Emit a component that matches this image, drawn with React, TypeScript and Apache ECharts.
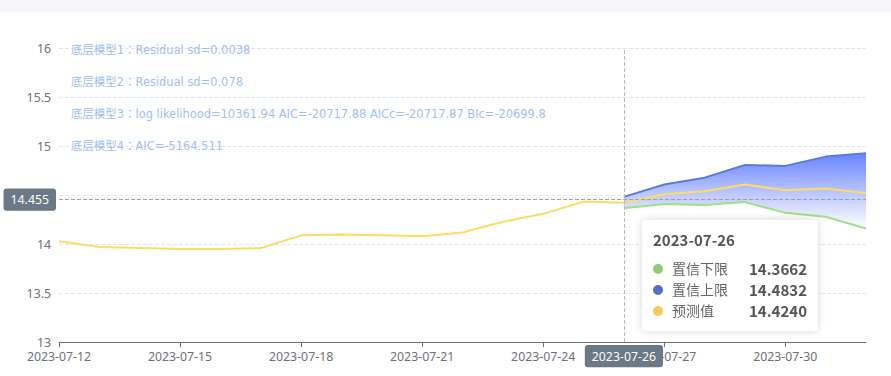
import React, { useEffect, useRef } from 'react';
import * as echarts from 'echarts';

const categories = [
  '2023-07-12', '2023-07-13', '2023-07-14', '2023-07-15', '2023-07-16', '2023-07-17',
  '2023-07-18', '2023-07-19', '2023-07-20', '2023-07-21', '2023-07-22', '2023-07-23',
  '2023-07-24', '2023-07-25', '2023-07-26', '2023-07-27', '2023-07-28', '2023-07-29',
  '2023-07-30', '2023-07-31', '2023-08-01',
];
const predicted = [
  14.03, 13.97, 13.96, 13.95, 13.95, 13.96, 14.09, 14.10, 14.09, 14.08, 14.12,
  14.23, 14.31, 14.435, 14.424, 14.51, 14.54, 14.61, 14.55, 14.57, 14.52,
];
const lowerBound = [
  null, null, null, null, null, null, null, null, null, null, null, null, null, null,
  14.3662, 14.41, 14.40, 14.43, 14.32, 14.28, 14.16,
];
const upperBound = [
  null, null, null, null, null, null, null, null, null, null, null, null, null, null,
  14.4832, 14.61, 14.68, 14.81, 14.80, 14.895, 14.93,
];
const seriesNames = ['置信下限', '置信上限', '预测值'];
const modelNotes = [
  '底层模型1：Residual sd=0.0038',
  '底层模型2：Residual sd=0.078',
  '底层模型3：log likelihood=10361.94 AIC=-20717.88 AICc=-20717.87 BIc=-20699.8',
  '底层模型4：AIC=-5164.511',
];
const pointerIndex = 14;
const pointerValue = 14.455;

const COLORS = ['#91cc75', '#5470c6', '#fac858'];
const FONT = '"Noto Sans CJK SC", "Noto Sans", sans-serif';
const AXIS_FONT = '"Noto Sans", "Noto Sans CJK SC", sans-serif';
const NOTE_FONT = '"DejaVu Sans", "Noto Sans CJK JP", sans-serif';

export default function App() {
  const ref = useRef<HTMLDivElement>(null);

  useEffect(() => {
    if (!ref.current) return;
    const chart = echarts.init(ref.current, undefined, { renderer: 'svg' });
    const bandDiff = upperBound.map((u, i) =>
      u == null || lowerBound[i] == null ? null : +(u - (lowerBound[i] as number)).toFixed(4)
    );
    const valueSets = [lowerBound, upperBound, predicted];

    chart.setOption({
      animation: false,
      textStyle: { fontFamily: AXIS_FONT },
      grid: { left: 59, right: 25, top: 48.5, bottom: 34 },
      tooltip: {
        trigger: 'axis',
        alwaysShowContent: true,
        transitionDuration: 0,
        backgroundColor: '#fff',
        borderWidth: 0,
        padding: [10, 11],
        extraCssText: 'box-shadow: 0 0 8px rgba(0,0,0,0.16); border-radius: 4px;',
        axisPointer: {
          type: 'cross',
          label: { backgroundColor: '#6a7985', fontFamily: AXIS_FONT, fontSize: 12.3 },
        },
        formatter: (params: any) => {
          const arr = Array.isArray(params) ? params : [params];
          const idx = arr[0].dataIndex;
          let html = `<div style="font-family:${FONT.replace(/"/g, "'")};width:154px">`;
          html += `<div style="font-size:15px;font-weight:bold;color:#555;line-height:20px;margin-bottom:8px">${categories[idx]}</div>`;
          seriesNames.forEach((name, k) => {
            const v = valueSets[k][idx];
            if (v == null) return;
            html += `<div style="display:flex;align-items:center;line-height:21px;font-size:14px;color:#666">`;
            html += `<span style="display:inline-block;width:10px;height:10px;border-radius:50%;background:${COLORS[k]};margin-right:9px"></span>`;
            html += `<span style="flex:1">${name}</span>`;
            html += `<span style="font-weight:bold;font-size:15px;color:#555">${(v as number).toFixed(4)}</span>`;
            html += `</div>`;
          });
          html += '</div>';
          return html;
        },
      },
      xAxis: {
        type: 'category',
        boundaryGap: false,
        data: categories,
        axisLine: { lineStyle: { color: '#6e7079' } },
        axisTick: { interval: 2, alignWithLabel: true },
        axisLabel: { interval: 2, color: '#6e7079', fontSize: 12.3, fontFamily: AXIS_FONT },
      },
      yAxis: {
        type: 'value',
        min: 13,
        max: 16,
        interval: 0.5,
        axisLine: { show: false },
        axisTick: { show: false },
        axisLabel: { color: '#6e7079', fontSize: 12.3, fontFamily: AXIS_FONT },
        splitLine: { lineStyle: { type: 'dashed', color: '#e0e6f1' } },
        axisPointer: {
          label: { formatter: (p: any) => Number(p.value).toFixed(3) },
        },
      },
      graphic: modelNotes.map((t, i) => ({
        type: 'text',
        left: 71,
        top: 44.5 + i * 32,
        z: 10,
        style: { text: t, fill: '#9fbfee', fontSize: 11.45, fontFamily: NOTE_FONT },
      })),
      series: [
        {
          name: seriesNames[0],
          type: 'line',
          data: lowerBound,
          stack: 'band',
          showSymbol: false,
          symbol: 'none',
          lineStyle: { color: COLORS[0], width: 2 },
          itemStyle: { color: COLORS[0] },
          z: 3,
        },
        {
          name: seriesNames[1],
          type: 'line',
          data: bandDiff,
          stack: 'band',
          showSymbol: false,
          symbol: 'none',
          lineStyle: { color: COLORS[1], width: 2 },
          itemStyle: { color: COLORS[1] },
          areaStyle: {
            opacity: 1,
            color: new echarts.graphic.LinearGradient(0, 0, 0, 1, [
              { offset: 0, color: 'rgba(88,114,245,0.95)' },
              { offset: 1, color: 'rgba(240,242,255,0.9)' },
            ]),
          },
          z: 2,
        },
        {
          name: seriesNames[2],
          type: 'line',
          data: predicted,
          showSymbol: false,
          symbol: 'none',
          lineStyle: { color: COLORS[2], width: 2 },
          itemStyle: { color: COLORS[2] },
          z: 4,
        },
      ],
    });

    const px = chart.convertToPixel({ xAxisIndex: 0 }, pointerIndex) as number;
    const py = chart.convertToPixel({ yAxisIndex: 0 }, pointerValue) as number;
    chart.dispatchAction({ type: 'showTip', x: px - 2, y: py });

    return () => chart.dispose();
  }, []);

  return (
    <div style={{ position: 'fixed', left: 0, top: 0, width: 891, height: 376, background: '#fff' }}>
      <div style={{ position: 'absolute', left: 0, top: 0, width: 891, height: 12, background: '#f5f6fa' }} />
      <div ref={ref} style={{ position: 'absolute', left: 0, top: 0, width: 891, height: 376 }} />
    </div>
  );
}
